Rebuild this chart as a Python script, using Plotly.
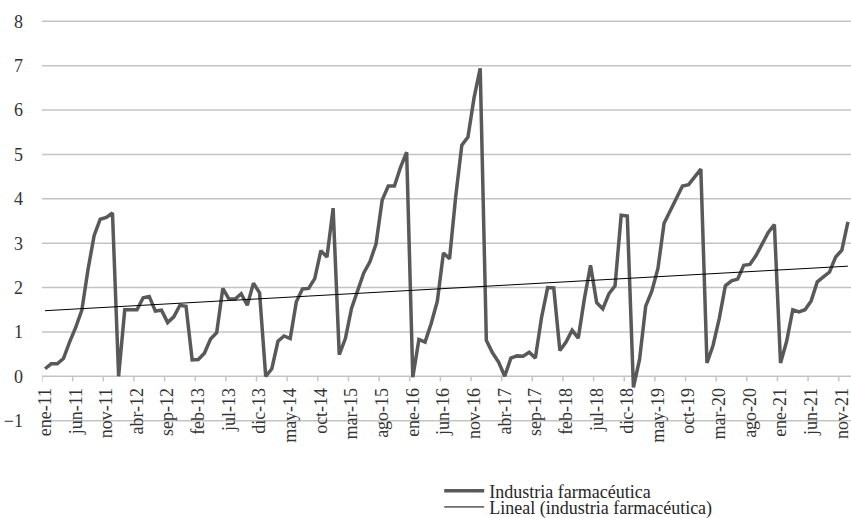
import numpy as np
import plotly.graph_objects as go

# Monthly series, ene-11 .. dic-21
meses = ["ene", "feb", "mar", "abr", "may", "jun", "jul", "ago", "sep", "oct", "nov", "dic"]
anios = list(range(11, 22))
periodos = [f"{m}-{a:02d}" for a in anios for m in meses]

industria = [
    0.17, 0.28, 0.28, 0.40, 0.77, 1.10, 1.49, 2.40, 3.17, 3.54, 3.58, 3.68,
    0.00, 1.50, 1.50, 1.50, 1.77, 1.80, 1.47, 1.49, 1.21, 1.34, 1.60, 1.58,
    0.37, 0.38, 0.52, 0.84, 0.98, 1.98, 1.74, 1.74, 1.86, 1.60, 2.10, 1.88,
    0.00, 0.17, 0.79, 0.91, 0.85, 1.68, 1.97, 1.98, 2.20, 2.83, 2.69, 3.79,
    0.49, 0.85, 1.53, 1.94, 2.33, 2.58, 2.98, 3.97, 4.29, 4.29, 4.71, 5.05,
    -0.02, 0.83, 0.77, 1.19, 1.69, 2.78, 2.65, 4.05, 5.21, 5.39, 6.28, 6.94,
    0.81, 0.53, 0.32, 0.00, 0.41, 0.46, 0.45, 0.54, 0.41, 1.32, 2.00, 1.99,
    0.58, 0.77, 1.04, 0.86, 1.75, 2.50, 1.66, 1.52, 1.86, 2.04, 3.63, 3.61,
    -0.25, 0.38, 1.58, 1.92, 2.43, 3.45, 3.73, 4.05, 4.29, 4.32, 4.49, 4.67,
    0.30, 0.70, 1.30, 2.04, 2.15, 2.19, 2.50, 2.52, 2.72, 2.99, 3.24, 3.42,
    0.30, 0.79, 1.50, 1.45, 1.50, 1.70, 2.13, 2.24, 2.35, 2.69, 2.84, 3.48,
]

# Value-axis ticks and category labels (every five months)
valores_y = list(range(-1, 9))
paso_etiqueta = 5
idx = np.arange(len(industria))
etiquetas_pos = list(range(0, len(industria), paso_etiqueta))
etiquetas_txt = [periodos[i] for i in etiquetas_pos]
marcas_pos = [p - 0.5 for p in etiquetas_pos]   # tick marks on category boundaries

# Linear trend fitted to the series
pend, inter = np.polyfit(idx, industria, 1)
tendencia = pend * idx + inter

fuente = "Liberation Serif"
gris_grid = "#c4c4c4"
rango_x = [-0.5, len(industria) - 0.5]
rango_y = [-1.03, 8.03]
alto_px = 518 - 20 - 96
largo_marca = 5 * (rango_y[1] - rango_y[0]) / alto_px   # 5 px in value units

fig = go.Figure()

# horizontal gridlines (the one at 0 doubles as the category axis line)
gx, gy = [], []
for v in valores_y:
    gx += [rango_x[0], rango_x[1], None]
    gy += [v, v, None]
fig.add_trace(go.Scatter(
    x=gx, y=gy, mode="lines", line=dict(color=gris_grid, width=1.5),
    showlegend=False, hoverinfo="skip", cliponaxis=False,
))

# category tick marks hanging below the 0 line
mx, my = [], []
for p in marcas_pos:
    mx += [p, p, None]
    my += [0, -largo_marca, None]
fig.add_trace(go.Scatter(
    x=mx, y=my, mode="lines", line=dict(color=gris_grid, width=1.5),
    showlegend=False, hoverinfo="skip", cliponaxis=False,
))

fig.add_trace(go.Scatter(
    x=idx, y=industria, mode="lines", name="Industria farmacéutica",
    line=dict(color="#595959", width=3.5), legend="legend",
))
fig.add_trace(go.Scatter(
    x=idx, y=tendencia, mode="lines", name="Lineal (industria farmacéutica)",
    line=dict(color="#000000", width=1), legend="legend2",
))

# The category labels hang from the 0 line: their axis is anchored to a
# companion value axis whose domain starts at that height.
pos_cero = (0 - rango_y[0]) / (rango_y[1] - rango_y[0])

fig.update_layout(
    width=851, height=518,
    margin=dict(l=42, r=0, t=20, b=96, autoexpand=False),
    paper_bgcolor="white", plot_bgcolor="rgba(0,0,0,0)",
    font=dict(family=fuente, size=18, color="#333333"),
    showlegend=True,
    legend=dict(
        x=0.491, y=-0.172, xanchor="left", yanchor="middle",
        bgcolor="rgba(0,0,0,0)", font=dict(family=fuente, size=18, color="#262626"),
        itemwidth=40,
    ),
    legend2=dict(
        x=0.491, y=-0.212, xanchor="left", yanchor="middle",
        bgcolor="rgba(0,0,0,0)", font=dict(family=fuente, size=18, color="#262626"),
        itemwidth=40,
    ),
    yaxis=dict(
        range=rango_y, tickmode="array", tickvals=valores_y, automargin=False,
        showgrid=False, zeroline=False, showline=False, ticks="",
        ticklabelstandoff=18,
    ),
    xaxis=dict(
        range=rango_x, anchor="y", automargin=False,
        showticklabels=False, ticks="", showgrid=False,
        zeroline=False, showline=False,
    ),
    yaxis2=dict(
        domain=[pos_cero, 1], range=[0, rango_y[1]], anchor="x2",
        showticklabels=False, showgrid=False, zeroline=False,
        showline=False, ticks="",
    ),
    xaxis2=dict(
        range=rango_x, anchor="y2", automargin=False,
        tickmode="array", tickvals=etiquetas_pos, ticktext=etiquetas_txt,
        tickangle=-90, ticks="", showgrid=False, zeroline=False,
        showline=False, ticklabelstandoff=7, ticklabeloverflow="allow",
    ),
)

# empty trace that places the companion axes
fig.add_trace(go.Scatter(
    x=[None], y=[None], xaxis="x2", yaxis="y2", mode="lines",
    showlegend=False, hoverinfo="skip",
))

fig.write_html("out.html")
